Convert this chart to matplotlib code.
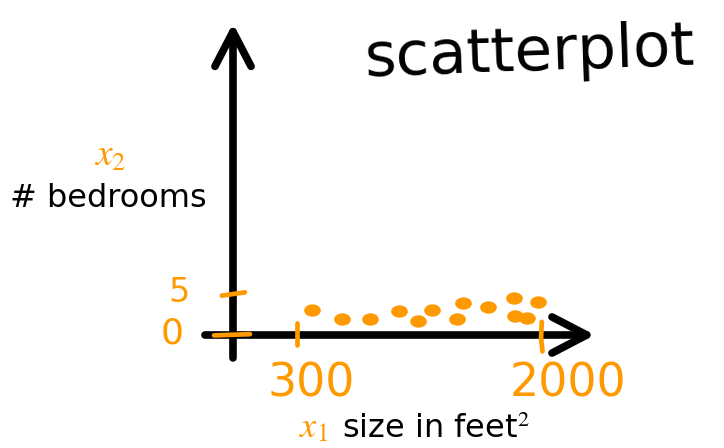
import numpy as np
import matplotlib.pyplot as plt
from matplotlib.path import Path

plt.rcParams['mathtext.fontset'] = 'stix'

# house size (feet^2) and number of bedrooms
size_ft2 = [404, 609, 806, 1009, 1141, 1235, 1450, 1413, 1628, 1807, 1976, 1814, 1897]
bedrooms = [3.1, 2.0, 1.95, 2.9, 1.7, 3.0, 3.9, 2.0, 3.4, 4.5, 4.0, 2.3, 2.1]

x_ticks = [300, 2000]
x_tick_labels = ['300', '2000']
y_ticks = [5, 0]
y_tick_labels = ['5', '0']

orange = '#ff9900'

fig = plt.figure(figsize=(7.24, 4.48), dpi=100)
ax = fig.add_axes([0, 0, 1, 1])
ax.axis('off')
ax.set_xlim(-1767, 3267)
ax.set_ylim(-13.78, 40.85)

# hand-drawn style axes with open arrow heads
axis_x = -147
arrow = dict(arrowstyle='->,head_length=1.25,head_width=0.65', lw=5.5, color='black',
             mutation_scale=20, shrinkA=0, shrinkB=0, capstyle='round', joinstyle='round')
ax.annotate('', xy=(axis_x, 38.0), xytext=(axis_x, -2.8), arrowprops=arrow, zorder=2)
ax.annotate('', xy=(2370, 0), xytext=(-342, 0), arrowprops=arrow, zorder=2)

# tick marks (drawn over the axes)
tick_kw = dict(color=orange, lw=3.4, solid_capstyle='round', zorder=5)
ax.plot([300, 300], [1.5, -1.2], **tick_kw)
ax.plot([2000, 1995, 2005], [1.6, -0.3, -2.0], **tick_kw)
ax.plot([-224, -64], [4.8, 5.2], **tick_kw)
ax.plot([-279, -29], [-0.05, 0.1], **tick_kw)

# tick labels
for t, lab, dx in zip(x_ticks, x_tick_labels, [10, 19]):
    ax.annotate(lab, xy=(t, 0), xytext=(dx, -35), textcoords='offset points',
                ha='center', va='center', color=orange, fontsize=33)
for t, lab, dx, fs in zip(y_ticks, y_tick_labels, [-39, -44], [24, 26]):
    ax.annotate(lab, xy=(axis_x, t), xytext=(dx, 1), textcoords='offset points',
                ha='center', va='center', color=orange, fontsize=fs)

# slightly flattened blobs for the data points
blob = Path(Path.unit_circle().vertices * [1.35, 1.0], Path.unit_circle().codes)
ax.plot(size_ft2, bedrooms, linestyle='none', marker=blob, markersize=12,
        color=orange, markeredgewidth=0, zorder=4)

# labels
fig.text(365 / 724, 1 - 76 / 448, 'scatterplot', fontsize=44, rotation=2,
         rotation_mode='anchor', ha='left', va='baseline')
fig.text(110 / 724, 1 - 156 / 448, '$x_2$', color=orange, fontsize=27,
         ha='center', va='center')
fig.text(10 / 724, 1 - 207 / 448, '# bedrooms', fontsize=23, ha='left', va='baseline')
fig.text(313 / 724, 1 - 427 / 448, '$x_1$', color=orange, fontsize=26,
         ha='center', va='center')
fig.text(342 / 724, 1 - 438 / 448, 'size in feet$^2$', fontsize=23,
         ha='left', va='baseline')

plt.savefig('out.png')
